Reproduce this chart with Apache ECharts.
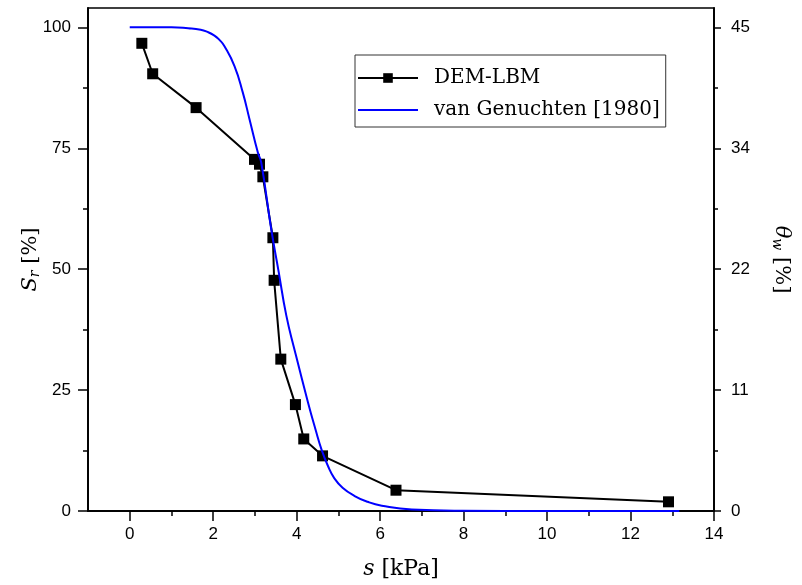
<!DOCTYPE html>
<html>
<head>
<meta charset="utf-8">
<script src="https://cdn.jsdelivr.net/npm/echarts@6/dist/echarts.min.js"></script>
<style>html,body{margin:0;padding:0;background:#fff}#c{width:802px;height:585px}</style>
</head>
<body>
<div id="c"></div>
<script>
const demS  = [0.29, 0.55, 1.59, 2.99, 3.11, 3.19, 3.43, 3.46, 3.62, 3.97, 4.17, 4.62, 6.38, 12.91];
const demSr = [96.7, 90.4, 83.4, 72.7, 71.7, 69.1, 56.5, 47.7, 31.4, 22.0, 14.9, 11.4, 4.3, 1.9];
const vgS  = [0, 0.5, 1.0, 1.4, 1.7, 1.85, 2.03, 2.15, 2.27, 2.51, 2.71, 2.87, 3.07, 3.15, 3.39, 3.57, 3.75, 3.95, 4.27, 4.45, 4.6, 4.75, 4.9, 5.1, 5.39, 5.7, 6.04, 6.76, 7.96, 10, 13.17];
const vgSr = [100, 100, 100, 99.8, 99.5, 99.1, 98.3, 97.4, 96.1, 92.0, 86.5, 81.0, 74.1, 72.1, 58.3, 49.4, 40.5, 33.3, 22.5, 16.9, 12.6, 9.3, 6.8, 4.8, 3.1, 1.9, 1.1, 0.3, 0.05, 0, 0];
const xMajor = [0, 2, 4, 6, 8, 10, 12, 14];
const xMinor = [1, 3, 5, 7, 9, 11, 13];
const yMajor = [0, 25, 50, 75, 100];
const yMinor = [12.5, 37.5, 62.5, 87.5];
const rightLabels = ['0', '11', '22', '34', '45'];
const seriesNames = ['DEM-LBM', 'van Genuchten [1980]'];

const chart = echarts.init(document.getElementById('c'), null, {renderer: 'canvas'});
const tickFont = {fontFamily: 'Liberation Sans', fontSize: 17, color: '#000'};
const serif = 'DejaVu Serif';
const axLine = {show: true, onZero: false, lineStyle: {color: '#000', width: 1.5}};
function xAx(vals, len, showLabel) {
  return {type: 'value', min: -1, max: 14, position: 'bottom',
    axisLine: axLine, splitLine: {show: false},
    axisTick: {show: true, customValues: vals, length: len, lineStyle: {color: '#000', width: 1.5}},
    axisLabel: Object.assign({show: showLabel, customValues: vals, margin: 15}, tickFont)};
}
function yAx(pos, vals, len, showLabel, fmt) {
  return {type: 'value', min: 0, max: 104, position: pos,
    axisLine: axLine, splitLine: {show: false},
    axisTick: {show: true, customValues: vals, length: len, lineStyle: {color: '#000', width: 1.5}},
    axisLabel: Object.assign({show: showLabel, customValues: vals, margin: 17, formatter: fmt}, tickFont)};
}
const xMain = xAx(xMajor, 10, true);
xMain.name = '{i|s} [kPa]';
xMain.nameLocation = 'middle';
xMain.nameGap = 47;
xMain.nameMoveOverlap = false;
xMain.nameTextStyle = {fontFamily: serif, fontSize: 22, color: '#000',
  rich: {i: {fontFamily: serif, fontStyle: 'italic', fontSize: 22, color: '#000'}}};
const yLeft = yAx('left', yMajor, 10, true, v => String(v));
yLeft.name = '{i|S}{sub|r} [%]';
yLeft.nameLocation = 'middle';
yLeft.nameRotate = 90;
yLeft.nameGap = 46;
yLeft.nameMoveOverlap = false;
yLeft.nameTextStyle = {fontFamily: serif, fontSize: 21, color: '#000',
  rich: {i: {fontFamily: serif, fontStyle: 'italic', fontSize: 21, color: '#000'},
         sub: {fontFamily: serif, fontStyle: 'italic', fontSize: 14, color: '#000', verticalAlign: 'bottom', padding: [8, 0, 0, 0]}}};
const yRight = yAx('right', yMajor, 7, true, v => rightLabels[yMajor.indexOf(v)]);
yRight.name = '{i|θ}{sub|w} [%]';
yRight.nameLocation = 'middle';
yRight.nameRotate = -90;
yRight.nameGap = 56;
yRight.nameMoveOverlap = false;
yRight.nameTextStyle = yLeft.nameTextStyle;

chart.setOption({
  animation: false,
  backgroundColor: '#fff',
  grid: {left: 88, right: 88, top: 8, bottom: 73, show: true, borderColor: '#000', borderWidth: 1.5, backgroundColor: 'transparent'},
  legend: {
    orient: 'vertical', left: 355, top: 55,
    data: [{name: seriesNames[0]}, {name: seriesNames[1], itemStyle: {opacity: 0}}],
    borderColor: '#333', borderWidth: 1, borderRadius: 0,
    padding: [13, 6, 7, 2], itemGap: 12, itemWidth: 60, itemHeight: 12,
    textStyle: {fontFamily: serif, fontSize: 20, color: '#000', padding: [0, 0, 0, 11]}
  },
  xAxis: [xMain, xAx(xMinor, 5, false)],
  yAxis: [yLeft, yAx('left', yMinor, 5, false), yRight, yAx('right', yMinor, 4, false)],
  series: [
    {name: seriesNames[0], type: 'line', xAxisIndex: 0, yAxisIndex: 0,
     data: demS.map((s, i) => [s, demSr[i]]),
     symbol: 'rect', symbolSize: 11, color: '#000',
     itemStyle: {color: '#000'}, lineStyle: {color: '#000', width: 2}, z: 3},
    {name: seriesNames[1], type: 'line', xAxisIndex: 0, yAxisIndex: 0,
     data: vgS.map((s, i) => [s, vgSr[i]]),
     symbol: 'none', smooth: true, color: '#0000ff',
     lineStyle: {color: '#0000ff', width: 2}, z: 4}
  ]
});
</script>
</body>
</html>
